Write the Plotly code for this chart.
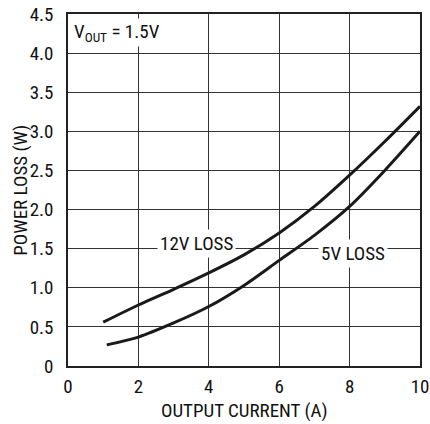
import plotly.graph_objects as go

# Data
x12 = [1.0, 2, 3, 4, 5, 6, 7, 8, 9, 10]
loss12 = [0.56, 0.78, 0.98, 1.19, 1.42, 1.70, 2.04, 2.44, 2.87, 3.32]
x5 = [1.1, 2, 3, 4, 5, 6, 7, 8, 9, 10]
loss5 = [0.27, 0.37, 0.55, 0.76, 1.03, 1.35, 1.67, 2.04, 2.50, 3.00]

xticks = [0, 2, 4, 6, 8, 10]
xticklabels = ["0", "2", "4", "6", "8", "10"]
yticks = [0, 0.5, 1.0, 1.5, 2.0, 2.5, 3.0, 3.5, 4.0, 4.5]
yticklabels = ["0", "0.5", "1.0", "1.5", "2.0", "2.5", "3.0", "3.5", "4.0", "4.5"]

FONT = "Liberation Sans Narrow, Roboto Condensed, Arial Narrow, Liberation Sans, sans-serif"
FS = 19

fig = go.Figure()
for xs, ys in [(x12, loss12), (x5, loss5)]:
    fig.add_trace(go.Scatter(x=xs, y=ys, mode="lines",
                             line=dict(color="#1a1a1a", width=3, shape="spline", smoothing=0.8),
                             showlegend=False, hoverinfo="skip"))

fig.add_annotation(x=3.66, y=1.56, xref="x", yref="y", text="12V LOSS", showarrow=False,
                   bgcolor="white", borderpad=2, font=dict(family=FONT, size=FS, color="#111"))
fig.add_annotation(x=8.1, y=1.44, xref="x", yref="y", text="5V LOSS", showarrow=False,
                   bgcolor="white", borderpad=2, font=dict(family=FONT, size=FS, color="#111"))
fig.add_annotation(x=0.012, y=0.99, xref="paper", yref="paper", xanchor="left", yanchor="top",
                   text="V<sub>OUT</sub> = 1.5V", showarrow=False,
                   bgcolor="white", borderpad=1, font=dict(family=FONT, size=FS, color="#111"))
# axis titles
fig.add_annotation(x=0.5, y=-0.125, xref="paper", yref="paper", xanchor="center", yanchor="middle",
                   text="OUTPUT CURRENT (A)", showarrow=False, font=dict(family=FONT, size=FS, color="#111"))
fig.add_annotation(x=-0.137, y=0.5, xref="paper", yref="paper", xanchor="center", yanchor="middle",
                   text="POWER LOSS (W)", textangle=-90, showarrow=False,
                   font=dict(family=FONT, size=FS, color="#111"))

fig.update_layout(
    width=430, height=424,
    margin=dict(l=68, r=10, t=14, b=58),
    paper_bgcolor="white", plot_bgcolor="white",
    font=dict(family=FONT, size=FS, color="#111"),
    xaxis=dict(range=[0, 10], tickvals=xticks, ticktext=xticklabels,
               showgrid=True, gridcolor="#333", gridwidth=1, zeroline=False,
               showline=True, linecolor="#222", linewidth=1.5, mirror=True,
               ticks="", ticklabelstandoff=2, automargin=False),
    yaxis=dict(range=[0, 4.5], tickvals=yticks, ticktext=yticklabels,
               showgrid=True, gridcolor="#333", gridwidth=1, zeroline=False,
               showline=True, linecolor="#222", linewidth=1.5, mirror=True,
               ticks="", ticklabelstandoff=9, automargin=False),
)

fig.write_html("out.html")
